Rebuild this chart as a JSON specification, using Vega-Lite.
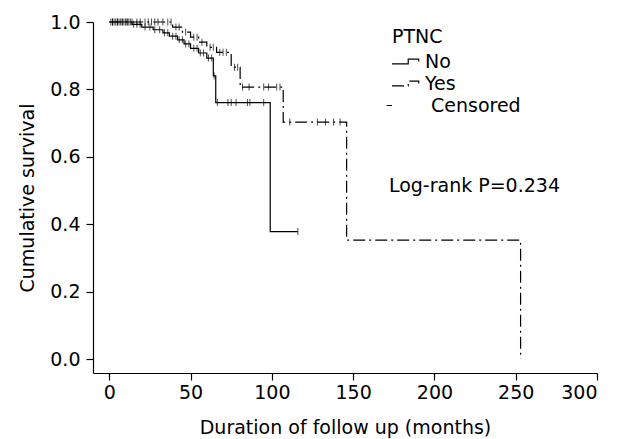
{
  "$schema": "https://vega.github.io/schema/vega-lite/v6.json",
  "width": 504,
  "height": 351,
  "autosize": {"type": "none"},
  "padding": {"left": 93, "top": 22, "right": 24, "bottom": 66},
  "background": "white",
  "config": {
    "view": {"stroke": null},
    "font": "DejaVu Sans",
    "axis": {"grid": false, "domainColor": "#000", "tickColor": "#000", "labelColor": "#000", "titleColor": "#000", "labelFont": "DejaVu Sans", "titleFont": "DejaVu Sans", "labelFontSize": 19, "titleFontSize": 19, "titleFontWeight": "normal", "domainWidth": 1.2, "tickWidth": 1.2, "tickSize": 7}
  },
  "datasets": {
    "lines": [
      {"t": 0, "s": 1.0, "g": "No"}, {"t": 14, "s": 0.993, "g": "No"}, {"t": 20, "s": 0.985, "g": "No"}, {"t": 27, "s": 0.977, "g": "No"}, {"t": 33, "s": 0.968, "g": "No"}, {"t": 37, "s": 0.958, "g": "No"}, {"t": 42, "s": 0.947, "g": "No"}, {"t": 46, "s": 0.935, "g": "No"}, {"t": 50, "s": 0.922, "g": "No"}, {"t": 55, "s": 0.908, "g": "No"}, {"t": 60, "s": 0.893, "g": "No"}, {"t": 64, "s": 0.84, "g": "No"}, {"t": 65.5, "s": 0.761, "g": "No"}, {"t": 99, "s": 0.378, "g": "No"}, {"t": 116, "s": 0.378, "g": "No"},
      {"t": 0, "s": 1.0, "g": "Yes"}, {"t": 39, "s": 0.985, "g": "Yes"}, {"t": 45, "s": 0.97, "g": "Yes"}, {"t": 50, "s": 0.955, "g": "Yes"}, {"t": 55, "s": 0.94, "g": "Yes"}, {"t": 60, "s": 0.925, "g": "Yes"}, {"t": 66, "s": 0.91, "g": "Yes"}, {"t": 75, "s": 0.866, "g": "Yes"}, {"t": 80.5, "s": 0.807, "g": "Yes"}, {"t": 107, "s": 0.703, "g": "Yes"}, {"t": 146, "s": 0.353, "g": "Yes"}, {"t": 253, "s": 0.0, "g": "Yes"}
    ],
    "censored": [
      {"t": 1, "s": 1.0, "g": "No"}, {"t": 2, "s": 1.0, "g": "No"}, {"t": 3, "s": 1.0, "g": "No"}, {"t": 4, "s": 1.0, "g": "No"}, {"t": 5, "s": 1.0, "g": "No"}, {"t": 6, "s": 1.0, "g": "No"}, {"t": 7, "s": 1.0, "g": "No"}, {"t": 8, "s": 1.0, "g": "No"}, {"t": 9, "s": 1.0, "g": "No"}, {"t": 10, "s": 1.0, "g": "No"}, {"t": 11, "s": 1.0, "g": "No"}, {"t": 12, "s": 1.0, "g": "No"}, {"t": 13, "s": 1.0, "g": "No"},
      {"t": 15, "s": 0.993, "g": "No"}, {"t": 17, "s": 0.993, "g": "No"}, {"t": 19, "s": 0.993, "g": "No"},
      {"t": 22, "s": 0.985, "g": "No"}, {"t": 25, "s": 0.985, "g": "No"},
      {"t": 28, "s": 0.977, "g": "No"}, {"t": 31, "s": 0.977, "g": "No"},
      {"t": 34, "s": 0.968, "g": "No"}, {"t": 36, "s": 0.968, "g": "No"},
      {"t": 39, "s": 0.958, "g": "No"}, {"t": 41, "s": 0.958, "g": "No"},
      {"t": 43, "s": 0.947, "g": "No"}, {"t": 45, "s": 0.947, "g": "No"},
      {"t": 47, "s": 0.935, "g": "No"}, {"t": 49, "s": 0.935, "g": "No"},
      {"t": 52, "s": 0.922, "g": "No"}, {"t": 54, "s": 0.922, "g": "No"},
      {"t": 56, "s": 0.908, "g": "No"}, {"t": 58, "s": 0.908, "g": "No"},
      {"t": 61, "s": 0.893, "g": "No"}, {"t": 63, "s": 0.893, "g": "No"},
      {"t": 64.5, "s": 0.84, "g": "No"},
      {"t": 66.5, "s": 0.761, "g": "No"}, {"t": 73, "s": 0.761, "g": "No"}, {"t": 75, "s": 0.761, "g": "No"}, {"t": 78, "s": 0.761, "g": "No"}, {"t": 85, "s": 0.761, "g": "No"}, {"t": 86.5, "s": 0.761, "g": "No"}, {"t": 95, "s": 0.761, "g": "No"},
      {"t": 116, "s": 0.378, "g": "No"},
      {"t": 2, "s": 1.0, "g": "Yes"}, {"t": 5, "s": 1.0, "g": "Yes"}, {"t": 8, "s": 1.0, "g": "Yes"}, {"t": 11, "s": 1.0, "g": "Yes"}, {"t": 14, "s": 1.0, "g": "Yes"}, {"t": 17, "s": 1.0, "g": "Yes"}, {"t": 19, "s": 1.0, "g": "Yes"}, {"t": 22, "s": 1.0, "g": "Yes"}, {"t": 24, "s": 1.0, "g": "Yes"}, {"t": 26, "s": 1.0, "g": "Yes"}, {"t": 28, "s": 1.0, "g": "Yes"}, {"t": 30, "s": 1.0, "g": "Yes"}, {"t": 33, "s": 1.0, "g": "Yes"}, {"t": 36, "s": 1.0, "g": "Yes"}, {"t": 38, "s": 1.0, "g": "Yes"},
      {"t": 41, "s": 0.985, "g": "Yes"}, {"t": 43, "s": 0.985, "g": "Yes"},
      {"t": 47, "s": 0.97, "g": "Yes"},
      {"t": 52, "s": 0.955, "g": "Yes"}, {"t": 54, "s": 0.955, "g": "Yes"},
      {"t": 57, "s": 0.94, "g": "Yes"},
      {"t": 62, "s": 0.925, "g": "Yes"}, {"t": 64, "s": 0.925, "g": "Yes"},
      {"t": 68, "s": 0.91, "g": "Yes"}, {"t": 70, "s": 0.91, "g": "Yes"}, {"t": 72, "s": 0.91, "g": "Yes"},
      {"t": 77, "s": 0.866, "g": "Yes"}, {"t": 79, "s": 0.866, "g": "Yes"},
      {"t": 82, "s": 0.807, "g": "Yes"}, {"t": 86, "s": 0.807, "g": "Yes"}, {"t": 95, "s": 0.807, "g": "Yes"}, {"t": 98, "s": 0.807, "g": "Yes"}, {"t": 103, "s": 0.807, "g": "Yes"}, {"t": 105, "s": 0.807, "g": "Yes"},
      {"t": 111, "s": 0.703, "g": "Yes"}, {"t": 128, "s": 0.703, "g": "Yes"}, {"t": 133, "s": 0.703, "g": "Yes"}, {"t": 138, "s": 0.703, "g": "Yes"}, {"t": 142, "s": 0.703, "g": "Yes"}
    ],
    "notes": [{"t": 172, "s": 0.513, "label": "Log-rank P=0.234"}]
  },
  "layer": [
    {
      "data": {"name": "lines"},
      "mark": {"type": "line", "interpolate": "step-after", "color": "#000", "strokeWidth": 1.2},
      "encoding": {
        "x": {"field": "t", "type": "quantitative", "scale": {"domain": [-10, 300], "nice": false, "zero": false}, "axis": {"values": [0, 50, 100, 150, 200, 250, 300], "title": "Duration of follow up (months)", "labelPadding": 3, "titlePadding": 16}},
        "y": {"field": "s", "type": "quantitative", "scale": {"domain": [-0.0415, 1.0], "nice": false, "zero": false}, "axis": {"values": [0, 0.2, 0.4, 0.6, 0.8, 1.0], "format": ".1f", "title": "Cumulative survival", "labelPadding": 6, "titlePadding": 12}},
        "detail": {"field": "g"},
        "strokeDash": {
          "field": "g", "type": "nominal",
          "scale": {"domain": ["No", "Yes", "Censored"], "range": [[1, 0], [12, 4, 2, 4], [1, 0]]},
          "legend": {
            "title": "PTNC", "orient": "none", "legendX": 299, "legendY": 6, "padding": 0,
            "titleFont": "DejaVu Sans", "titleFontSize": 19, "titleFontWeight": "normal", "titleColor": "#000", "titlePadding": 3,
            "labelFont": "DejaVu Sans", "labelFontSize": 19, "labelColor": "#000", "labelOffset": 10,
            "symbolSize": 441, "symbolStrokeColor": "#000", "symbolStrokeWidth": 1.2, "symbolFillColor": "transparent",
            "symbolType": "M-1.1,0.22H0.45V-0.22H1.45V0", "rowPadding": 0,
            "encode": {
              "symbols": {"update": {"shape": {"signal": "datum.value === 'Censored' ? 'M-1.6,0H-1.1' : 'M-1.1,0.22H0.45V-0.22H1.45V0'"}, "stroke": {"value": "#000"}, "fill": {"value": "transparent"}}},
              "labels": {"update": {"dx": {"signal": "datum.value === 'Censored' ? 6 : 0"}}}
            }
          }
        }
      }
    },
    {
      "data": {"name": "censored"},
      "mark": {"type": "tick", "orient": "vertical", "color": "#000", "size": 7, "thickness": 1},
      "encoding": {
        "x": {"field": "t", "type": "quantitative"},
        "y": {"field": "s", "type": "quantitative"}
      }
    },
    {
      "data": {"name": "notes"},
      "mark": {"type": "text", "align": "left", "baseline": "middle", "font": "DejaVu Sans", "fontSize": 19, "color": "#000"},
      "encoding": {
        "x": {"field": "t", "type": "quantitative"},
        "y": {"field": "s", "type": "quantitative"},
        "text": {"field": "label"}
      }
    }
  ]
}
